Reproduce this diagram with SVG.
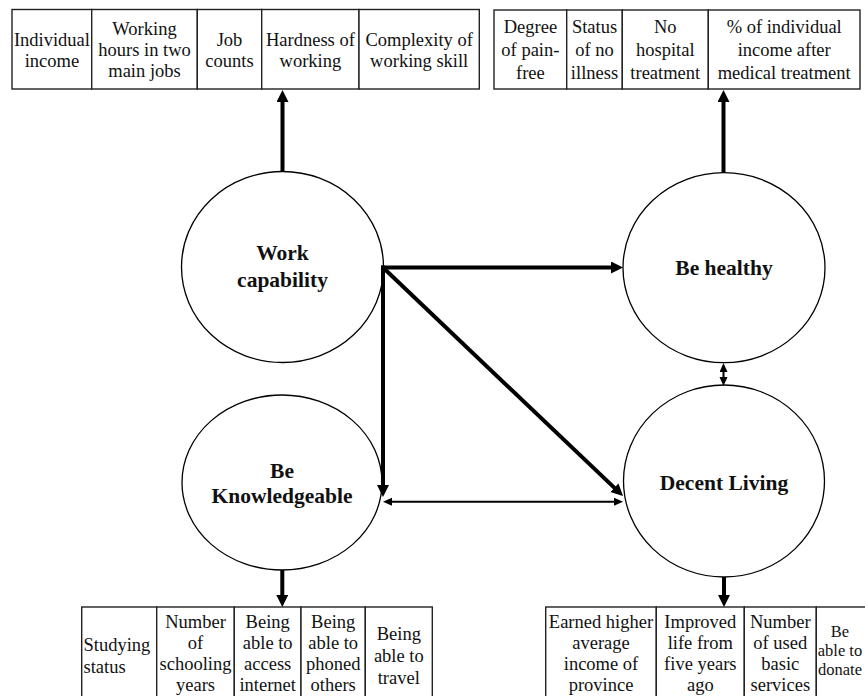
<svg xmlns="http://www.w3.org/2000/svg" width="865" height="696" viewBox="0 0 865 696">
<style>
.bg{fill:#fff}
.cell{fill:#fff;stroke:#222;stroke-width:1.4}
.node{fill:#fff;stroke:#000;stroke-width:1.3}
.t{font-family:"Liberation Serif","Times New Roman",serif;font-size:18.5px;fill:#111;text-anchor:middle}
.tl{font-family:"Liberation Serif","Times New Roman",serif;font-size:18.5px;fill:#111;text-anchor:start}
.ts{font-family:"Liberation Serif","Times New Roman",serif;font-size:16.5px;fill:#111;text-anchor:middle}
.b{font-family:"Liberation Serif","Times New Roman",serif;font-size:21.5px;font-weight:bold;fill:#111;text-anchor:middle}
.thick{stroke:#000;stroke-width:4;fill:none;marker-end:url(#ah)}
.thin{stroke:#000;stroke-width:2;fill:none;marker-start:url(#ahs);marker-end:url(#ahs)}
</style>
<defs>
<marker id="ah" markerUnits="userSpaceOnUse" markerWidth="13" markerHeight="13" refX="2" refY="6" orient="auto" viewBox="0 0 13 13">
<path d="M0,0 L12,6 L0,12 z" fill="#000"/>
</marker>
<marker id="ahs" markerUnits="userSpaceOnUse" markerWidth="10" markerHeight="9" refX="1" refY="4" orient="auto-start-reverse" viewBox="0 0 10 9">
<path d="M0,0 L9,4 L0,8 z" fill="#000"/>
</marker>
</defs>
<rect class="bg" x="0" y="0" width="865" height="696"/>

<g id="table-work">
<rect class="cell" x="12" y="9.5" width="79.7" height="79.5"/>
<rect class="cell" x="91.7" y="9.5" width="105.6" height="79.5"/>
<rect class="cell" x="197.3" y="9.5" width="64.4" height="79.5"/>
<rect class="cell" x="261.7" y="9.5" width="97.3" height="79.5"/>
<rect class="cell" x="359" y="9.5" width="120.3" height="79.5"/>
<text class="t" x="51.9" y="46">Individual</text><text class="t" x="51.9" y="67">income</text>
<text class="t" x="144.5" y="35">Working</text><text class="t" x="144.5" y="56">hours in two</text><text class="t" x="144.5" y="77">main jobs</text>
<text class="t" x="229.5" y="46">Job</text><text class="t" x="229.5" y="67">counts</text>
<text class="t" x="310.4" y="46">Hardness of</text><text class="t" x="310.4" y="67">working</text>
<text class="t" x="419.2" y="46">Complexity of</text><text class="t" x="419.2" y="67">working skill</text>
</g>

<g id="table-health">
<rect class="cell" x="494" y="10" width="72.7" height="79"/>
<rect class="cell" x="566.7" y="10" width="55.6" height="79"/>
<rect class="cell" x="622.3" y="10" width="86" height="79"/>
<rect class="cell" x="708.3" y="10" width="151.7" height="79"/>
<text class="t" x="530.4" y="33">Degree</text><text class="t" x="530.4" y="56">of pain-</text><text class="t" x="530.4" y="79">free</text>
<text class="t" x="594.5" y="33">Status</text><text class="t" x="594.5" y="56">of no</text><text class="t" x="594.5" y="79">illness</text>
<text class="t" x="665.3" y="33">No</text><text class="t" x="665.3" y="56">hospital</text><text class="t" x="665.3" y="79">treatment</text>
<text class="t" x="784.2" y="33">% of individual</text><text class="t" x="784.2" y="56">income after</text><text class="t" x="784.2" y="79">medical treatment</text>
</g>

<g id="table-knowledge">
<rect class="cell" x="81.7" y="607" width="75" height="100"/>
<rect class="cell" x="156.7" y="607" width="77.6" height="100"/>
<rect class="cell" x="234.3" y="607" width="66.7" height="100"/>
<rect class="cell" x="301" y="607" width="64.3" height="100"/>
<rect class="cell" x="365.3" y="607" width="67" height="100"/>
<text class="tl" x="83.5" y="651">Studying</text><text class="tl" x="83.5" y="673">status</text>
<text class="t" x="195.5" y="628">Number</text><text class="t" x="195.5" y="649">of</text><text class="t" x="195.5" y="670">schooling</text><text class="t" x="195.5" y="691">years</text>
<text class="t" x="267.7" y="628">Being</text><text class="t" x="267.7" y="649">able to</text><text class="t" x="267.7" y="670">access</text><text class="t" x="267.7" y="691">internet</text>
<text class="t" x="333.2" y="628">Being</text><text class="t" x="333.2" y="649">able to</text><text class="t" x="333.2" y="670">phoned</text><text class="t" x="333.2" y="691">others</text>
<text class="t" x="398.8" y="640">Being</text><text class="t" x="398.8" y="662">able to</text><text class="t" x="398.8" y="684">travel</text>
</g>

<g id="table-living">
<rect class="cell" x="545.7" y="607" width="110.6" height="100"/>
<rect class="cell" x="656.3" y="607" width="88" height="100"/>
<rect class="cell" x="744.3" y="607" width="72" height="100"/>
<rect class="cell" x="816.3" y="607" width="55" height="100"/>
<text class="t" x="601" y="628">Earned higher</text><text class="t" x="601" y="649">average</text><text class="t" x="601" y="670">income of</text><text class="t" x="601" y="691">province</text>
<text class="t" x="700.3" y="628">Improved</text><text class="t" x="700.3" y="649">life from</text><text class="t" x="700.3" y="670">five years</text><text class="t" x="700.3" y="691">ago</text>
<text class="t" x="780.3" y="628">Number</text><text class="t" x="780.3" y="649">of used</text><text class="t" x="780.3" y="670">basic</text><text class="t" x="780.3" y="691">services</text>
<text class="ts" x="840" y="637">Be</text><text class="ts" x="840" y="656">able to</text><text class="ts" x="840" y="675">donate</text>
</g>

<g id="node-work">
<ellipse class="node" cx="282.5" cy="267" rx="101" ry="95.5"/>
<text class="b" x="282.5" y="260">Work</text>
<text class="b" x="282.5" y="287">capability</text>
</g>

<g id="node-healthy">
<ellipse class="node" cx="724" cy="267.7" rx="101" ry="95"/>
<text class="b" x="724" y="275">Be healthy</text>
</g>

<g id="node-knowledge">
<ellipse class="node" cx="282" cy="482.5" rx="100" ry="87.5"/>
<text class="b" x="282" y="478">Be</text>
<text class="b" x="282" y="503">Knowledgeable</text>
</g>

<g id="node-living">
<ellipse class="node" cx="724" cy="481" rx="100.5" ry="96"/>
<text class="b" x="724" y="490">Decent Living</text>
</g>

<g id="connectors">
<line class="thick" x1="282.5" y1="172" x2="282.5" y2="100"/>
<line class="thick" x1="723.5" y1="172.7" x2="723.5" y2="100"/>
<line class="thick" x1="381" y1="267.5" x2="613" y2="267.5"/>
<line class="thick" x1="383" y1="265.5" x2="383" y2="487"/>
<line class="thick" x1="383" y1="267.5" x2="615.8" y2="489.1"/>
<line class="thin" x1="391" y1="501.7" x2="615" y2="501.7"/>
<line class="thin" x1="723.5" y1="371" x2="723.5" y2="378"/>
<line class="thick" x1="282.3" y1="570" x2="282.3" y2="597"/>
<line class="thick" x1="724" y1="577" x2="724" y2="597"/>
</g>
</svg>
